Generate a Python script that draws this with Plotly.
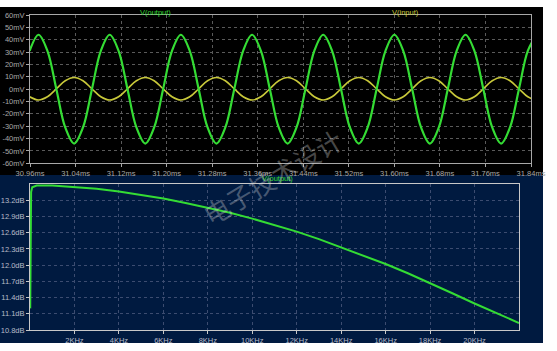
import plotly.graph_objects as go
from plotly.subplots import make_subplots

# ---- transient data (time in ms, voltage in mV) ----
t_ms = [30.9594, 30.9750, 30.9906, 31.0063, 31.0219, 31.0375, 31.0531, 31.0688, 31.0844,
        31.1000, 31.1156, 31.1313, 31.1469, 31.1625, 31.1781, 31.1938, 31.2094,
        31.2250, 31.2406, 31.2563, 31.2719, 31.2875, 31.3031, 31.3188, 31.3344,
        31.3500, 31.3656, 31.3813, 31.3969, 31.4125, 31.4281, 31.4438, 31.4594,
        31.4750, 31.4906, 31.5063, 31.5219, 31.5375, 31.5531, 31.5688, 31.5844,
        31.6000, 31.6156, 31.6313, 31.6469, 31.6625, 31.6781, 31.6938, 31.7094,
        31.7250, 31.7406, 31.7563, 31.7719, 31.7875, 31.8031, 31.8188, 31.8344,
        31.8500]
v_output = [31, 44, 31, 0, -31, -44, -31, 0, 31,
            44, 31, 0, -31, -44, -31, 0, 31,
            44, 31, 0, -31, -44, -31, 0, 31,
            44, 31, 0, -31, -44, -31, 0, 31,
            44, 31, 0, -31, -44, -31, 0, 31,
            44, 31, 0, -31, -44, -31, 0, 31,
            44, 31, 0, -31, -44, -31, 0, 31,
            44]
v_input = [-6.2, -8.8, -6.2, 0.3, 6.8, 9.4, 6.8, 0.3, -6.2,
           -8.8, -6.2, 0.3, 6.8, 9.4, 6.8, 0.3, -6.2,
           -8.8, -6.2, 0.3, 6.8, 9.4, 6.8, 0.3, -6.2,
           -8.8, -6.2, 0.3, 6.8, 9.4, 6.8, 0.3, -6.2,
           -8.8, -6.2, 0.3, 6.8, 9.4, 6.8, 0.3, -6.2,
           -8.8, -6.2, 0.3, 6.8, 9.4, 6.8, 0.3, -6.2,
           -8.8, -6.2, 0.3, 6.8, 9.4, 6.8, 0.3, -6.2,
           -8.8]
t_ticks = [30.96, 31.04, 31.12, 31.20, 31.28, 31.36, 31.44, 31.52, 31.60, 31.68, 31.76, 31.84]
t_labels = ["30.96ms", "31.04ms", "31.12ms", "31.20ms", "31.28ms", "31.36ms",
            "31.44ms", "31.52ms", "31.60ms", "31.68ms", "31.76ms", "31.84ms"]
mv_ticks = [60, 50, 40, 30, 20, 10, 0, -10, -20, -30, -40, -50, -60]
mv_labels = ["60mV", "50mV", "40mV", "30mV", "20mV", "10mV", "0mV",
             "-10mV", "-20mV", "-30mV", "-40mV", "-50mV", "-60mV"]

# ---- AC data ----
freq_hz = [10, 15, 20, 30, 50, 100, 300, 1000, 2000, 3000, 4000, 5000, 6000, 7000, 8000,
           9000, 10000, 11000, 12000, 13000, 14000, 15000, 16000, 17000, 18000, 19000,
           20000, 21000, 22000]
gain_db = [11.2, 12.25, 12.77, 13.13, 13.35, 13.44, 13.47, 13.47, 13.44, 13.41, 13.36,
           13.30, 13.23, 13.15, 13.06, 12.97, 12.86, 12.74, 12.62, 12.48, 12.33, 12.18,
           12.02, 11.85, 11.67, 11.48, 11.29, 11.11, 10.93]
f_ticks = [2000, 4000, 6000, 8000, 10000, 12000, 14000, 16000, 18000, 20000]
f_labels = ["2KHz", "4KHz", "6KHz", "8KHz", "10KHz", "12KHz", "14KHz", "16KHz", "18KHz", "20KHz"]
db_ticks = [10.8, 11.1, 11.4, 11.7, 12.0, 12.3, 12.6, 12.9, 13.2]
db_labels = ["10.8dB", "11.1dB", "11.4dB", "11.7dB", "12.0dB", "12.3dB", "12.6dB", "12.9dB", "13.2dB"]

GREEN = "#34dc34"
YELLOW = "#c8c83a"
NAVY = "#001a40"
FONT = "Liberation Sans"

fig = make_subplots(rows=2, cols=1)
fig.add_trace(go.Scatter(x=t_ms, y=v_input, mode="lines", line=dict(color=YELLOW, width=1.6, shape="spline"),
                         showlegend=False), row=1, col=1)
fig.add_trace(go.Scatter(x=t_ms, y=v_output, mode="lines", line=dict(color=GREEN, width=2.2, shape="spline"),
                         showlegend=False), row=1, col=1)
fig.add_trace(go.Scatter(x=freq_hz, y=gain_db, mode="lines", line=dict(color=GREEN, width=2),
                         showlegend=False), row=2, col=1)

W, H = 557, 351
ml, mr, mt, mb = 30, 26, 15, 21
pw, ph = W - ml - mr, H - mt - mb

def px(x):
    return (x - ml) / pw

def py(y):
    return (H - mb - y) / ph

common = dict(showline=True, mirror=True, ticks="outside", ticklen=3, automargin=False,
              zeroline=False, showgrid=True, griddash="dot", gridwidth=1,
              tickfont_family=FONT, tickfont_size=7.5)

fig.update_xaxes(domain=[0, 1], range=[30.96, 31.84], tickvals=t_ticks, ticktext=t_labels,
                 linecolor="#a8a8a8", tickcolor="#a8a8a8", gridcolor="#5a5a5a",
                 tickfont_color="#a8a8a8", row=1, col=1, **common)
fig.update_yaxes(domain=[py(163.3), 1], range=[-60, 60], tickvals=mv_ticks, ticktext=mv_labels,
                 linecolor="#a8a8a8", tickcolor="#a8a8a8", gridcolor="#5a5a5a",
                 tickfont_color="#a8a8a8", row=1, col=1, **common)
fig.update_xaxes(domain=[0, px(519)], range=[0, 22000], tickvals=f_ticks, ticktext=f_labels,
                 linecolor="#c8c8c8", tickcolor="#c8c8c8", gridcolor="#3c4c70",
                 tickfont_color="#b8bcc8", row=2, col=1, **common)
fig.update_yaxes(domain=[0, py(184)], range=[10.8, 13.5], tickvals=db_ticks, ticktext=db_labels,
                 linecolor="#c8c8c8", tickcolor="#c8c8c8", gridcolor="#3c4c70",
                 tickfont_color="#b8bcc8", row=2, col=1, **common)

shapes = [
    dict(type="rect", xref="paper", yref="paper", x0=px(0), x1=px(543), y0=py(175), y1=py(7),
         fillcolor="black", line_width=0, layer="below"),
    dict(type="rect", xref="paper", yref="paper", x0=px(0), x1=px(543), y0=py(343), y1=py(175),
         fillcolor=NAVY, line_width=0, layer="below"),
]

annotations = [
    dict(text="V(output)", xref="paper", yref="paper", x=px(155), y=py(12), showarrow=False,
         font=dict(family=FONT, size=7.5, color=GREEN), xanchor="center", yanchor="middle"),
    dict(text="V(input)", xref="paper", yref="paper", x=px(405), y=py(12), showarrow=False,
         font=dict(family=FONT, size=7.5, color=YELLOW), xanchor="center", yanchor="middle"),
    dict(text="V(output)", xref="paper", yref="paper", x=px(277), y=py(179), showarrow=False,
         font=dict(family=FONT, size=7.5, color=GREEN), xanchor="center", yanchor="middle"),
    dict(text="电子技术设计", xref="paper", yref="paper", x=px(272), y=py(176), showarrow=False,
         textangle=-31,
         font=dict(family="Noto Sans CJK SC", size=26, color="rgba(225,225,225,0.33)"),
         xanchor="center", yanchor="middle"),
]

fig.update_layout(width=W, height=H, margin=dict(l=ml, r=mr, t=mt, b=mb),
                  paper_bgcolor="white", plot_bgcolor="rgba(0,0,0,0)",
                  shapes=shapes, annotations=annotations, showlegend=False)

fig.write_html("out.html")
